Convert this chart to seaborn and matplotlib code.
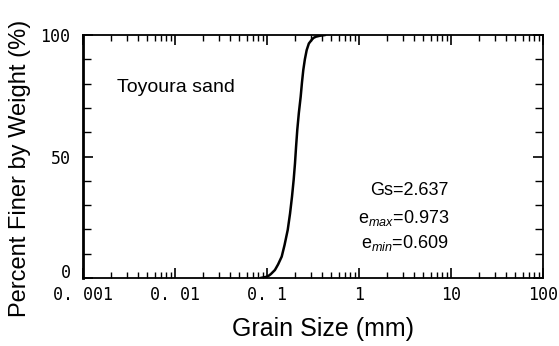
import matplotlib
matplotlib.use("Agg")
import matplotlib.pyplot as plt
import seaborn as sns
import pandas as pd
import numpy as np
from matplotlib.ticker import FixedLocator, NullFormatter

# Data
grain_size_mm = [0.085, 0.0992, 0.105, 0.11, 0.122, 0.132, 0.1445, 0.155, 0.168, 0.178,
                 0.187, 0.195, 0.2015, 0.207, 0.2134, 0.222, 0.2323, 0.24, 0.248,
                 0.258, 0.270, 0.285, 0.306, 0.32, 0.34, 0.377, 0.43]
percent_finer = [0.0, 0.5, 1.0, 1.6, 3.3, 5.6, 8.8, 13.5, 19.8, 26.5,
                 33.5, 40.5, 47.2, 54.0, 61.0, 68.0, 74.6, 80.5, 85.6,
                 90.0, 93.8, 96.5, 98.0, 98.8, 99.3, 99.7, 100.0]

x_tick_values = [0.001, 0.01, 0.1, 1, 10, 100]
x_tick_labels = ["0. 001", "0. 01", "0. 1", "1", "10", "100"]
y_tick_values = [0, 50, 100]
y_tick_labels = ["0", "50", "100"]

sns.set_style("ticks")
plt.rcParams["font.family"] = ["Liberation Sans", "DejaVu Sans"]
plt.rcParams["mathtext.fontset"] = "custom"
plt.rcParams["mathtext.rm"] = "Liberation Sans"
plt.rcParams["mathtext.it"] = "Liberation Sans:italic"
plt.rcParams["text.color"] = "black"
plt.rcParams["axes.labelcolor"] = "black"
plt.rcParams["xtick.color"] = "black"
plt.rcParams["ytick.color"] = "black"

df = pd.DataFrame({"d": grain_size_mm, "p": percent_finer})

fig = plt.figure(figsize=(5.59, 3.46), dpi=100)
ax = fig.add_axes([83 / 559, 1 - 278 / 346, 460 / 559, 243 / 346])

sns.lineplot(data=df, x="d", y="p", ax=ax, color="black", linewidth=1.8,
             sort=False, estimator=None)

ax.set_xscale("log")
ax.set_xlim(0.001, 100)
ax.set_ylim(0, 100)

ax.set_xticks(x_tick_values)
ax.set_xticklabels(x_tick_labels, family="DejaVu Sans Mono", fontsize=12)
minor_x = [m * 10.0 ** e for e in range(-3, 2) for m in range(2, 10)]
ax.xaxis.set_minor_locator(FixedLocator(minor_x))
ax.xaxis.set_minor_formatter(NullFormatter())

ax.set_yticks(y_tick_values)
ax.set_yticklabels(y_tick_labels, family="DejaVu Sans Mono", fontsize=12)
ax.yaxis.set_minor_locator(FixedLocator([10, 20, 30, 40, 60, 70, 80, 90]))
ax.get_yticklabels()[0].set_va("baseline")

ax.tick_params(axis="both", which="major", direction="in", length=7, width=1.2,
               top=True, right=True, colors="black", labelcolor="black")
ax.tick_params(axis="both", which="minor", direction="in", length=4, width=1.0,
               top=True, right=True, colors="black")
ax.tick_params(axis="y", which="minor", length=6)
ax.tick_params(axis="x", which="major", pad=6)
ax.tick_params(axis="y", which="major", pad=9)

for side in ["top", "right", "bottom"]:
    ax.spines[side].set_visible(True)
    ax.spines[side].set_linewidth(1.3)
    ax.spines[side].set_color("black")
ax.spines["left"].set_linewidth(2.0)
ax.spines["left"].set_color("black")

ax.set_xlabel("Grain Size (mm)", fontsize=18, color="black")
ax.xaxis.set_label_coords((323 - 83) / 460, -(336 - 278) / 243)
ax.xaxis.label.set_va("baseline")
ax.set_ylabel("Percent Finer by Weight (%)", fontsize=17, color="black")
ax.yaxis.set_label_coords((20 - 83) / 460, (278 - 168) / 243)
ax.yaxis.label.set_va("center")

ax.text(0.00232, 76.4, "Toyoura sand", fontsize=14, ha="left", va="baseline", color="black")
ax.text(9.5, 34.2, "Gs=2.637", fontsize=13, ha="right", va="baseline", color="black")
ax.text(9.5, 22.6, r"e$_{\mathit{max}}$=0.973", fontsize=13, ha="right", va="baseline", color="black")
ax.text(9.5, 12.3, r"e$_{\mathit{min}}$=0.609", fontsize=13, ha="right", va="baseline", color="black")

fig.savefig("out.png", dpi=100)
